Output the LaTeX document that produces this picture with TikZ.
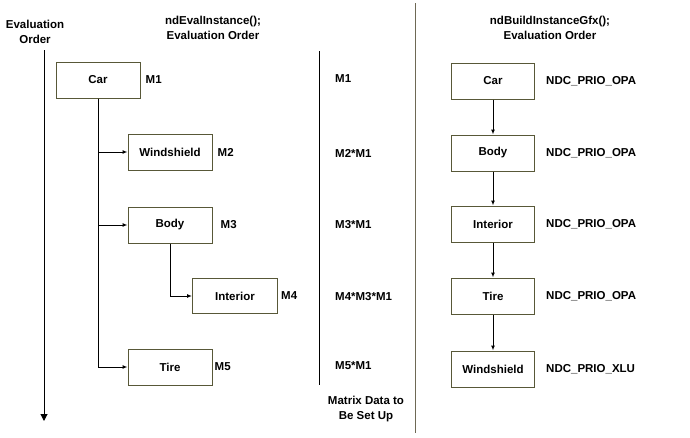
\documentclass[tikz,border=0pt]{standalone}
\usepackage{fontspec}
\setmainfont{Liberation Sans}
\usetikzlibrary{arrows.meta, positioning}
\definecolor{boxolive}{RGB}{88, 88, 56}
\definecolor{lineolive}{RGB}{110, 105, 85}

\begin{document}
\begin{tikzpicture}[
        x=1pt, y=-1pt,
        font=\fontsize{11.5}{15}\selectfont\bfseries,
        partbox/.style={rectangle, draw=boxolive, line width=1pt, minimum width=84pt, minimum height=36pt, inner sep=0pt},
        mlabel/.style={anchor=west, inner sep=0pt},
        heading/.style={align=center, inner sep=0pt},
        link/.style={line width=1pt, -{Latex[length=5pt, width=4pt]}}
    ]
        \useasboundingbox (0,0) rectangle (690,437);

        % headings
        \node[heading] (ordhead) at (35,32) {Evaluation\\Order};
        \node[heading] (evalhead) at (213,28) {ndEvalInstance();\\Evaluation Order};
        \node[heading] (gfxhead) at (550,28) {ndBuildInstanceGfx();\\Evaluation Order};

        % evaluation order arrow
        \coordinate (ordtop) at (44,50);
        \coordinate (ordbot) at (44,421);
        \draw[line width=1pt, -{Triangle[length=7pt, width=7pt]}] (ordtop) -- (ordbot);

        % instance tree
        \node[partbox] (car) at (98,80) {Car};
        \node[partbox] (windshield) at (170,152) {Windshield};
        \node[partbox] (body) at (170,225) {Body};
        \node[partbox, minimum width=85pt, minimum height=35pt] (interior) at (235,296) {Interior};
        \node[partbox] (tire) at (170,367) {Tire};

        \draw[link] (car.south) |- (windshield.west);
        \draw[link] (car.south) |- (body.west);
        \draw[link] (car.south) |- (tire.west);
        \draw[link] (body.south) |- (interior.west);

        \node[mlabel, right=5pt of car] (m1) {M1};
        \node[mlabel, right=5pt of windshield] (m2) {M2};
        \node[mlabel, right=8pt of body] (m3) {M3};
        \node[mlabel, right=3pt of interior] (m4) {M4};
        \node[mlabel, right=2pt of tire] (m5) {M5};

        % matrix column
        \coordinate (midtop) at (319,51);
        \coordinate (midbot) at (319,385);
        \draw[line width=1pt] (midtop) -- (midbot);

        \node[mlabel] (mx1) at (335,79) {M1};
        \node[mlabel] (mx2) at (335,153) {M2*M1};
        \node[mlabel] (mx3) at (335,225) {M3*M1};
        \node[mlabel] (mx4) at (335,297) {M4*M3*M1};
        \node[mlabel] (mx5) at (335,366) {M5*M1};
        \node[heading] (mxnote) at (366,409) {Matrix Data to\\Be Set Up};

        % divider
        \coordinate (divtop) at (415,3);
        \coordinate (divbot) at (415,433);
        \draw[line width=1pt, lineolive] (divtop) -- (divbot);

        % gfx order
        \node[partbox, minimum width=83pt] (gcar) at (493,81) {Car};
        \node[partbox, minimum width=83pt] (gbody) at (493,153) {Body};
        \node[partbox, minimum width=83pt] (ginterior) at (493,224) {Interior};
        \node[partbox, minimum width=83pt] (gtire) at (493,296) {Tire};
        \node[partbox, minimum width=83pt] (gwindshield) at (493,369) {Windshield};

        \draw[link] (gcar) -- (gbody);
        \draw[link] (gbody) -- (ginterior);
        \draw[link] (ginterior) -- (gtire);
        \draw[link] (gtire) -- (gwindshield);

        \node[mlabel, right=11pt of gcar] (prio1) {NDC\_PRIO\_OPA};
        \node[mlabel, right=11pt of gbody] (prio2) {NDC\_PRIO\_OPA};
        \node[mlabel, right=11pt of ginterior] (prio3) {NDC\_PRIO\_OPA};
        \node[mlabel, right=11pt of gtire] (prio4) {NDC\_PRIO\_OPA};
        \node[mlabel, right=11pt of gwindshield] (prio5) {NDC\_PRIO\_XLU};
    \end{tikzpicture}
\end{document}
